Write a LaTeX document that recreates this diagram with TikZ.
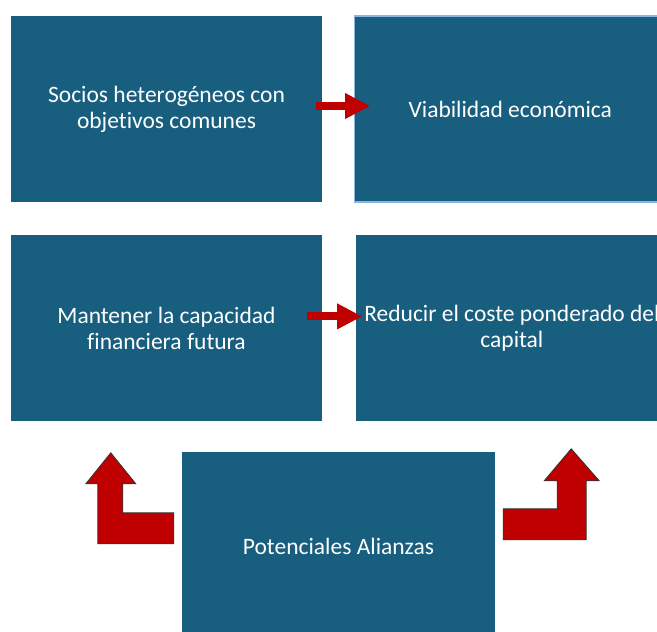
\documentclass[tikz,border=0pt]{standalone}
\usepackage{fontspec}
\setmainfont{Carlito}[RawFeature=-liga]
\usetikzlibrary{positioning,arrows.meta}
\definecolor{boxblue}{RGB}{24,94,127}
\definecolor{arrowred}{RGB}{192,0,0}
\definecolor{edgeblue}{RGB}{140,180,226}
\begin{document}
\begin{tikzpicture}[
        x=1pt, y=-1pt,
        node distance=32pt,
        box/.style={rectangle, minimum width=311pt, minimum height=186pt, inner sep=0pt, align=center, fill=boxblue, text=white, font=\fontsize{23.5}{26}\selectfont},
        arrow/.style={line width=8pt, draw=arrowred, -{Triangle[length=25pt, width=24pt]}},
        bentarrow/.style={fill=arrowred, draw=black!80, line width=0.8pt, line join=miter}
    ]
        \useasboundingbox (0,0) rectangle (657,632);
        \node (socios) [box] at (166.5,109) {Socios heterogéneos con\\objetivos comunes};
        \node (viab) [box, right=32pt of socios, draw=edgeblue, line width=1.2pt] {Viabilidad económica};
        \node (mantener) [box, below=33pt of socios] {Mantener la capacidad\\financiera futura};
        \node (reducir) [box, right=34pt of mantener] {Reducir el coste ponderado del\\capital};
        \node (alianzas) [box, minimum width=313pt, minimum height=188pt] at (338.5,546) {Potenciales Alianzas};

        \draw[arrow, shorten <=-6pt, shorten >=-16pt] ([yshift=3pt]socios.east) -- ([yshift=3pt]viab.west);
        \draw[arrow, shorten <=-15pt, shorten >=-6pt] ([yshift=12pt]mantener.east) -- ([yshift=12pt]reducir.west);

        % bent arrows from the alliances box
        \begin{scope}[shift={(alianzas.north west)}]
            \draw[bentarrow] (-84,92) -- (-8,92) -- (-8,61) -- (-59,61) -- (-59,32) -- (-46,32) -- (-71,1) -- (-96,32) -- (-84,32) -- cycle;
        \end{scope}
        \begin{scope}[shift={(alianzas.north east)}]
            \draw[bentarrow] (8,88) -- (91,88) -- (91,29) -- (104,29) -- (76,-3) -- (49,29) -- (62,29) -- (62,57) -- (8,57) -- cycle;
        \end{scope}
    \end{tikzpicture}
\end{document}
